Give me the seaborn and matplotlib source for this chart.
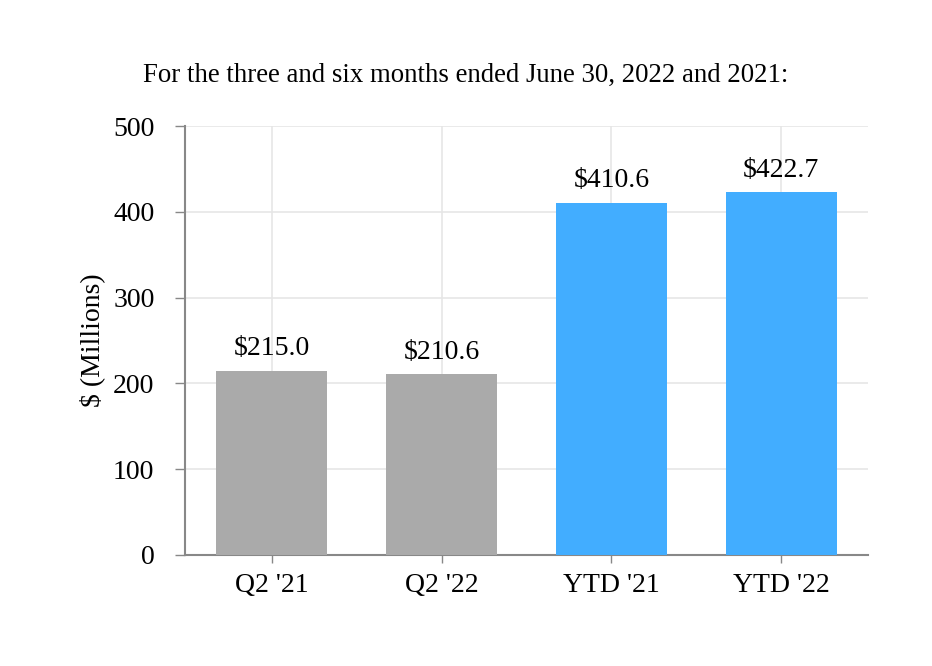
import matplotlib
matplotlib.use("Agg")
import matplotlib.pyplot as plt
import seaborn as sns
import pandas as pd

categories = ["Q2 '21", "Q2 '22", "YTD '21", "YTD '22"]
values = [215.0, 210.6, 410.6, 422.7]
labels = ["$215.0", "$210.6", "$410.6", "$422.7"]
colors = ["#aaaaaa", "#aaaaaa", "#42adff", "#42adff"]
yticks = [0, 100, 200, 300, 400, 500]
title = "For the three and six months ended June 30, 2022 and 2021:"
ylabel = "$ (Millions)"

sns.set_theme(style="white")
plt.rcParams['font.family'] = ['Liberation Serif', 'DejaVu Serif']
plt.rcParams['text.color'] = 'black'
plt.rcParams['xtick.color'] = '#888888'
plt.rcParams['ytick.color'] = '#888888'
plt.rcParams['xtick.labelcolor'] = 'black'
plt.rcParams['ytick.labelcolor'] = 'black'
plt.rcParams['axes.labelcolor'] = 'black'
plt.rcParams['xtick.bottom'] = True
plt.rcParams['ytick.left'] = True

df = pd.DataFrame({"cat": categories, "val": values})

fig = plt.figure(figsize=(9.32, 6.66), dpi=100)
ax = fig.add_axes([185/932, 1-555/666, (868-185)/932, (555-126)/666])

sns.barplot(data=df, x="cat", y="val", hue="cat", palette=colors, legend=False,
            width=0.65, ax=ax, saturation=1, zorder=3, linewidth=0)

ax.set_xlim(-0.51, 3.51)
ax.set_ylim(0, 500)
ax.set_yticks(yticks)
ax.set_yticklabels([str(t) for t in yticks])
ax.tick_params(axis='x', labelsize=20, length=6, width=1, pad=7, bottom=True)
ax.tick_params(axis='y', labelsize=20, length=7, width=1, pad=15, left=True)
ax.grid(True, color="#e6e6e6", linewidth=1.2, zorder=0)
ax.set_axisbelow(True)
for s in ["top", "right"]:
    ax.spines[s].set_visible(False)
for s in ["left", "bottom"]:
    ax.spines[s].set_color("#888888")
    ax.spines[s].set_linewidth(1.5)
ax.set_xlabel("")
ax.set_ylabel(ylabel, fontsize=20, labelpad=6)

for i, (v, lab) in enumerate(zip(values, labels)):
    ax.annotate(lab, (i, v), xytext=(0, 7), textcoords="offset points",
                ha="center", va="bottom", fontsize=20)

fig.text(466/932, 1-75/666, title, ha="center", va="center", fontsize=19.3)

fig.savefig("out.png", dpi=100)
